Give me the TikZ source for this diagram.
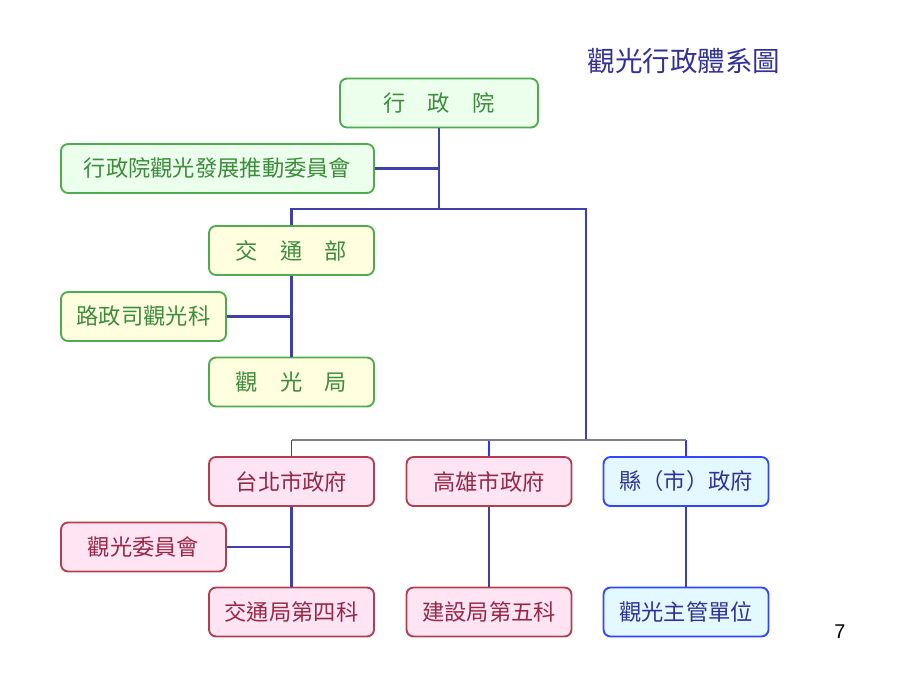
\documentclass[tikz,border=0pt]{standalone}
\usepackage{fontspec}
\setmainfont{Liberation Sans}
\newfontfamily\cjk{Noto Sans CJK TC}
\usepackage{tikz}

\definecolor{grnline}{RGB}{80,170,80}
\definecolor{grnfill}{RGB}{236,255,236}
\definecolor{ylwfill}{RGB}{255,255,224}
\definecolor{grntext}{RGB}{60,140,60}
\definecolor{pnkline}{RGB}{176,64,80}
\definecolor{pnkfill}{RGB}{255,228,244}
\definecolor{pnktext}{RGB}{150,40,70}
\definecolor{bluline}{RGB}{50,70,255}
\definecolor{blufill}{RGB}{228,248,255}
\definecolor{blutext}{RGB}{50,50,150}
\definecolor{connblue}{RGB}{64,64,170}
\definecolor{dropblue}{RGB}{50,50,255}

\tikzset{
  box/.style={draw, rounded corners=6, line width=1.6pt, minimum height=1.47cm,
              minimum width=4.95cm, inner sep=0pt, font=\cjk\fontsize{19}{19}\selectfont},
  grnbox/.style={box, draw=grnline, fill=grnfill, text=grntext},
  ylwbox/.style={box, draw=grnline, fill=ylwfill, text=grntext},
  pnkbox/.style={box, draw=pnkline, fill=pnkfill, text=pnktext},
  blubox/.style={box, draw=bluline, fill=blufill, text=blutext},
  conn/.style={draw=connblue, line width=1.9pt},
}

\begin{document}
\begin{tikzpicture}[x=0.03cm, y=-0.03cm]
    \useasboundingbox (0,0) rectangle (900,675);

    \node[text=blutext, font=\cjk\fontsize{23.5}{23.5}\selectfont] (title) at (684, 61) {觀光行政體系圖};

    \node[grnbox, minimum width=5.94cm](ey) at (439, 103) {行　政　院};
    \node[grnbox, minimum width=9.39cm](tdw) at (217.5, 168.5) {行政院觀光發展推動委員會};

    \node[ylwbox](jtb) at (291.5, 250.5) {交　通　部};
    \node[ylwbox](lzs) at (143.5, 316.5) {路政司觀光科};
    \node[ylwbox](gkj) at (291.5, 382) {觀　光　局};

    \node[pnkbox](tp) at (291.5, 481.5) {台北市政府};
    \node[pnkbox](kh) at (489, 481.5) {高雄市政府};
    \node[blubox](xs) at (686, 481.5) {縣（市）政府};
    \node[pnkbox](gw) at (143.5, 547) {觀光委員會};
    \node[pnkbox](jt4) at (291.5, 612) {交通局第四科};
    \node[pnkbox](js5) at (489, 612) {建設局第五科};
    \node[blubox](gz) at (686, 612) {觀光主管單位};

    \node[font=\fontsize{17}{17}\selectfont] (pg) at (840, 632) {7};

    \coordinate (top) at (439, 209);
    \coordinate (mid) at (586, 440);

    % central government
    \draw[conn] (ey) -- (top);
    \draw[conn] (tdw) -- (tdw -| top);
    \draw[conn] (jtb) |- (top) -| (mid);
    \draw[conn] (jtb) -- (gkj)
                (lzs) -- (lzs -| jtb);

    % local government
    \draw[draw=dropblue, line width=1.6pt] (tp) -- (tp |- mid)
                                           (kh) -- (kh |- mid)
                                           (xs) -- (xs |- mid);
    \draw[draw=gray, line width=2.4pt] (tp.north |- mid) -- (xs.north |- mid);
    \draw[conn] (tp) -- (jt4)
                (kh) -- (js5)
                (xs) -- (gz)
                (gw) -- (gw -| tp);
\end{tikzpicture}
\end{document}
